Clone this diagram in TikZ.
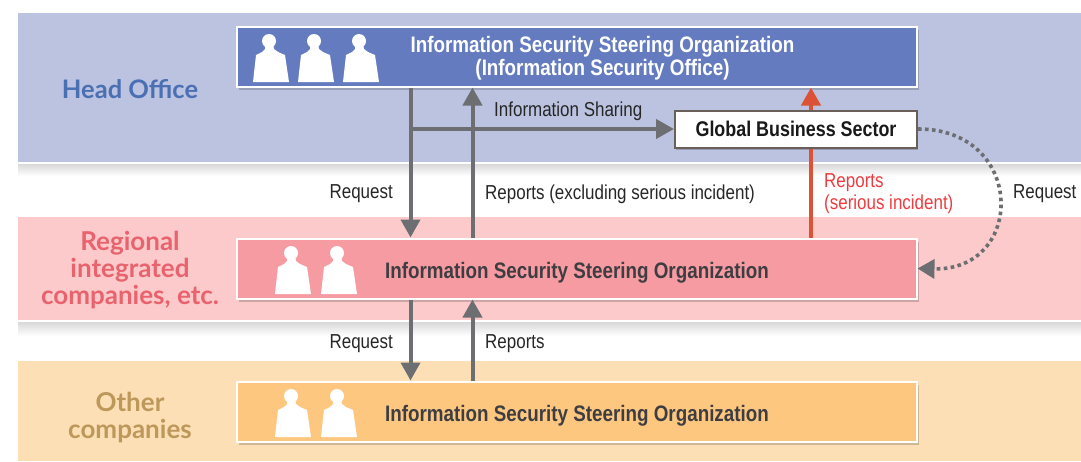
\documentclass[tikz,border=0pt]{standalone}
\usepackage{fontspec}
\setmainfont[FakeStretch=0.84]{Liberation Sans}
\newfontfamily\bandfont{Lato}
\usepackage{xcolor}
\usetikzlibrary{arrows.meta, shadows}

\definecolor{headband}{HTML}{BBC3E0}
\definecolor{headbox}{HTML}{647CBF}
\definecolor{headtext}{HTML}{4A6FB3}
\definecolor{midband}{HTML}{FCCACA}
\definecolor{midbox}{HTML}{F79BA2}
\definecolor{midtext}{HTML}{E9636E}
\definecolor{lowband}{HTML}{FDDFB6}
\definecolor{lowbox}{HTML}{FEC77F}
\definecolor{lowtext}{HTML}{BD985A}
\definecolor{flowgray}{HTML}{6D6E72}
\definecolor{flowred}{HTML}{DC5236}
\definecolor{redtext}{HTML}{EE3B3F}
\definecolor{sectorline}{HTML}{6B5F59}
\definecolor{inktext}{HTML}{3E3E42}

\tikzset{
	orgbox/.style={draw=white, line width=2pt, minimum width=680pt, minimum height=60pt, inner sep=0pt,
		drop shadow={shadow xshift=2pt, shadow yshift=-3pt, opacity=0.18, fill=black}},
	orgtext/.style={font=\bfseries\fontsize{22.4}{23}\selectfont, align=center, text=inktext},
	flowtext/.style={font=\fontsize{20.2}{21.5}\selectfont, text=black!85, inner sep=0pt},
	bandtext/.style={font=\bandfont\bfseries\fontsize{26}{27}\selectfont, align=center},
	flow/.style={draw=flowgray, line width=4pt, -{Triangle[length=18pt, width=19pt]}},
	person/.pic={
		\fill[white] (-2,-41) circle (7pt);
		\fill[white] (-18,0) -- (-15,-27) -- (-9,-30) -- (-6,-33) -- (-6,-38) -- (2,-38) -- (3,-33) -- (7,-30) -- (14,-27) -- (18,0) -- cycle;
	}
}

\begin{document}
\begin{tikzpicture}[x=1pt, y=-1pt]
	\useasboundingbox (0,0) rectangle (1081,461);

	% Bands
	\shade[top color=black!15, bottom color=white] (18,164) rectangle (1081,176);
	\shade[top color=black!15, bottom color=white] (18,322) rectangle (1081,336);
	\fill[headband] (18,13) rectangle (1081,162);
	\fill[midband] (18,217) rectangle (1081,320);
	\fill[lowband] (18,361) rectangle (1081,461);
	\node[bandtext, text=headtext, font=\bandfont\bfseries\fontsize{25.5}{27}\selectfont] (headlabel) at (130,89) {Head Office};
	\node[bandtext, text=midtext] (midlabel) at (130,270) {Regional\\integrated\\companies, etc.};
	\node[bandtext, text=lowtext] (lowlabel) at (130,418) {Other\\companies};

	% Boxes
	\node[orgbox, fill=headbox] (headorg) at (576.5,56.5) {};
	\node[orgbox, fill=midbox] (midorg) at (576.5,268.5) {};
	\node[orgbox, fill=lowbox] (loworg) at (576.5,411.5) {};
	\node[draw=sectorline, fill=white, line width=2pt, minimum width=242pt, minimum height=37pt, inner sep=0pt,
		drop shadow={shadow xshift=1pt, shadow yshift=-2pt, opacity=0.2, fill=black},
		font=\bfseries\fontsize{21.3}{23}\selectfont, text=black!90] (sector) at (796,129) {Global Business Sector};
	\node[orgtext, text=white] (headname) at (602.5,58) {Information Security Steering Organization\\(Information Security Office)};
	\node[orgtext] (midname) at (577,273) {Information Security Steering Organization};
	\node[orgtext] (lowname) at (577,416) {Information Security Steering Organization};

	% People
	\foreach \x in {271,316,361} \pic at (\x,82) {person};
	\foreach \x in {293,339} {
		\pic at (\x,294) {person};
		\pic at (\x,437) {person};
	}

	% Arrows
	\coordinate (reqline) at (410.5,0);
	\coordinate (repline) at (472.5,0);
	\coordinate (redline) at (811,0);
	\draw[flow] (headorg.south -| reqline) -- (midorg.north -| reqline);
	\draw[flow] (midorg.north -| repline) -- (headorg.south -| repline);
	\draw[flow] (sector.west -| reqline) -- (sector.west);
	\draw[flow] (midorg.south -| reqline) -- (loworg.north -| reqline);
	\draw[flow] (loworg.north -| repline) -- (midorg.south -| repline);
	\draw[flow, draw=flowred, fill=flowred] (sector.north -| redline) -- (headorg.south -| redline);
	\draw[draw=flowred, line width=4pt] (midorg.north -| redline) -- (sector.south -| redline);
	\draw[draw=flowgray, line width=3.6pt, dash pattern=on 3.6pt off 3.4pt, -{Triangle[length=17pt, width=19pt]}]
		(sector.east) .. controls (1026,129) and (1026,271) .. (midorg.east);

	% Labels
	\node[flowtext, anchor=west] (sharing) at (494,111) {Information Sharing};
	\node[flowtext, anchor=east] (req1) at (393,193.5) {Request};
	\node[flowtext, anchor=west] (rep1) at (485,194.5) {Reports (excluding serious incident)};
	\node[flowtext, anchor=west] (req2) at (1013,193.5) {Request};
	\node[flowtext, anchor=west, align=left, text=redtext] (rep2) at (824,193.5) {Reports\\(serious incident)};
	\node[flowtext, anchor=east] (req3) at (393,343.5) {Request};
	\node[flowtext, anchor=west] (rep3) at (485,343.5) {Reports};
\end{tikzpicture}
\end{document}
